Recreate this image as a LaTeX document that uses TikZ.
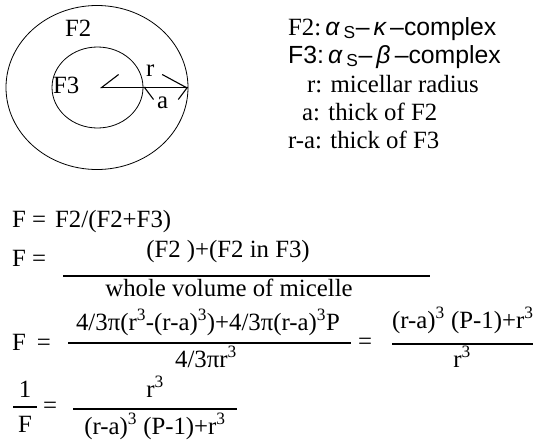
\documentclass[tikz,border=0pt]{standalone}
\usepackage{fontspec}
\setmainfont{Liberation Serif}
\setsansfont{Liberation Sans}
\usetikzlibrary{arrows.meta,shapes.geometric}
\newcommand\bigsize{\fontsize{24.8}{28}\selectfont}
\newcommand\cube{\textsuperscript{3}}

\begin{document}
\begin{tikzpicture}[x=1pt,y=-1pt,
 lbl/.style={anchor=base west,inner sep=0pt,font=\bigsize},
 mid/.style={anchor=base,inner sep=0pt,font=\bigsize},
 ring/.style={draw,ellipse,inner sep=0pt,line width=0.8pt},
 bar/.style={line width=2.3pt},
 rarr/.style={line width=1.1pt,{Straight Barb[right,length=17pt,width=26pt]}-{Straight Barb[left,length=24pt,width=26pt]}},
 aarr/.style={line width=1.1pt,{Straight Barb[left,length=9pt,width=24pt]}-{Straight Barb[right,length=9pt,width=24pt]}}]
\useasboundingbox (0,0) rectangle (533,442);
% micelle cross-section
\node[ring,minimum width=182pt,minimum height=164pt] (outer) at (97,87.5) {};
\node[ring,minimum width=91pt,minimum height=81pt] (inner) at (97.5,87.5) {};
\coordinate (ctr) at (100,87.5);
\draw[rarr] (ctr) -- (outer.east);
\draw[aarr] (inner.east) -- (outer.east);
\node[lbl] (f2) at (65,36) {F2};
\node[lbl] (f3) at (53,93) {F3};
\node[lbl] (rlab) at (146,76) {r};
\node[lbl] (alab) at (157,108) {a};
% legend
\node[lbl] (leg1) at (288,35) {F2:\,{\sffamily\itshape α\,\upshape\textsubscript{S}–\,\itshape κ\,\upshape–complex}};
\node[lbl] (leg2) at (288,63) {\sffamily F3:\,{\itshape α\,\upshape\textsubscript{S}–\,\itshape β\,\upshape–complex}};
\node[lbl] (leg3) at (307,92) {r: micellar radius};
\node[lbl] (leg4) at (302,120) {a: thick of F2};
\node[lbl] (leg5) at (288,148) {r-a: thick of F3};
% formulas
\node[lbl] (fa) at (12,227) {F =};
\node[lbl] (fadef) at (55,227) {F2/(F2+F3)};
\node[lbl] (fb) at (12,266) {F =};
\node[mid] (bnum) at (228,257) {(F2 )+(F2 in F3)};
\node[mid] (bden) at (229,296) {whole volume of micelle};
\node[lbl] (fc) at (12,350) {F\hspace{11pt}=};
\node[mid] (c1num) at (208,330) {4/3π(r\cube-(r-a)\cube)+4/3π(r-a)\cube P};
\node[mid] (c1den) at (206,367) {4/3πr\cube};
\node[lbl] (ceq) at (358,349) {=};
\node[lbl] (c2num) at (392,328) {(r-a)\cube{} (P-1)+r\cube};
\node[mid] (c2den) at (462,367) {r\cube};
\node[mid] (one) at (25,397) {1};
\node[mid] (fd) at (25,432) {F};
\node[lbl] (deq) at (43,413) {=};
\node[mid] (dnum) at (155,397) {r\cube};
\node[mid] (dden) at (155,434) {(r-a)\cube{} (P-1)+r\cube};
% fraction bars
\coordinate (b1l) at (63,276); \coordinate (b1r) at (430,276);
\coordinate (b2l) at (68,343); \coordinate (b2r) at (351,343);
\coordinate (b3l) at (392,344); \coordinate (b3r) at (533,344);
\coordinate (b4l) at (13,407); \coordinate (b4r) at (37,407);
\coordinate (b5l) at (73,409); \coordinate (b5r) at (237,409);
\foreach \b in {b1,b2,b3,b4,b5}
 \draw[bar] (\b l) -- (\b r);
\end{tikzpicture}
\end{document}
